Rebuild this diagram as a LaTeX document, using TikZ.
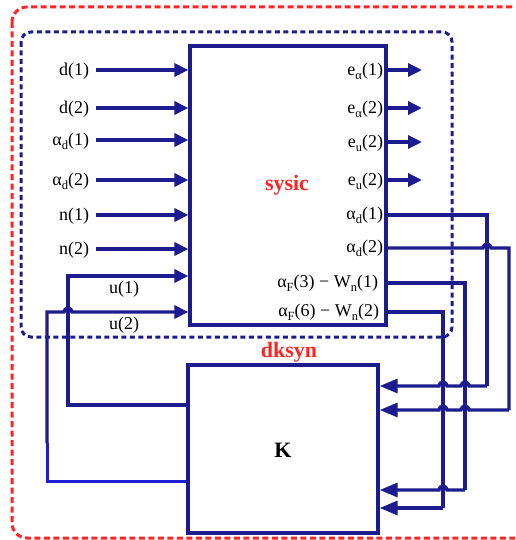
\documentclass[tikz,border=0pt]{standalone}
\usepackage{fontspec}
\setmainfont{Liberation Serif}
\usetikzlibrary{arrows.meta,positioning}
\definecolor{sysnavy}{HTML}{1C1C8E}
\definecolor{sysblue}{HTML}{1E1ED2}
\definecolor{dkred}{HTML}{FF2424}
\newcommand{\fL}{\fontsize{18}{21}\selectfont}
\newcommand{\fT}{\fontsize{22}{25}\selectfont\bfseries}
\newcommand{\lo}[1]{\raisebox{-0.5ex}{\fontsize{12.5}{13}\selectfont #1}}

\begin{document}
\begin{tikzpicture}[x=1pt,y=-1pt,
    txt/.style={inner sep=0pt,outer sep=0pt,font=\fL},
    lbl/.style={txt,anchor=base east},
    ttl/.style={txt,font=\fT},
    blk/.style={draw=sysnavy,fill=white,line width=3.3pt,inner sep=0pt},
    lnk/.style={draw=sysnavy,line width=3.3pt},
    arr/.style={lnk,-{Triangle[length=14pt,width=13pt]}},
    karr/.style={lnk,-{Triangle[length=18pt,width=14pt]}}]
  \path[use as bounding box] (0,0) rectangle (515,540);
  \clip (0,0) rectangle (515,540);

  % Enclosures: dksyn (red) and sysic (blue)
  \draw[dkred,line width=3pt,dash pattern=on 6pt off 3.5pt,rounded corners=15pt]
    (12,7) rectangle (570,538);
  \draw[sysnavy,line width=3pt,dash pattern=on 5pt off 3.5pt,rounded corners=10pt]
    (21,32) rectangle (452,337);

  % Blocks
  \node[blk,minimum width=196pt,minimum height=279pt] (sysic) at (288,185.5) {};
  \node[blk,minimum width=190pt,minimum height=168pt] (K) at (283,449) {};
  \node[ttl,text=dkred] (sysictxt) at (287,185) {sysic};
  \node[ttl,text=dkred] (dksyntxt) at (289,352) {dksyn};
  \node[ttl] (Ktxt) at (283,450) {K};

  % External inputs of sysic
  \foreach \y/\t/\n in {70/d(1)/d1, 108/d(2)/d2, 140/{α\lo{d}(1)}/ad1,
      180/{α\lo{d}(2)}/ad2, 215/n(1)/n1, 249/n(2)/n2} {
    \node[lbl] (lab\n) at (89,\y+5.5) {\t};
    \coordinate (in\n) at (96,\y);
    \draw[arr] (in\n) -- (in\n -| sysic.west);
  }

  % Performance outputs
  \foreach \y/\t/\n in {70/{e\lo{α}(1)}/ea1, 108/{e\lo{α}(2)}/ea2,
      142/{e\lo{u}(2)}/eu1, 180/{e\lo{u}(2)}/eu2} {
    \node[lbl] (lab\n) at (383,\y+5.5) {\t};
    \coordinate (out\n) at (422,\y);
    \draw[arr] (out\n -| sysic.east) -- (out\n);
  }

  % Measured outputs fed to K
  \node[lbl] (labm1) at (383,215+4.5) {α\lo{d}(1)};
  \node[lbl] (labm2) at (383,248+4.5) {α\lo{d}(2)};
  \node[lbl] (labm3) at (378,283+4.5) {α\lo{F}(3) − W\lo{n}(1)};
  \node[lbl] (labm4) at (379,312+4.5) {α\lo{F}(6) − W\lo{n}(2)};
  \coordinate (pm1) at (sysic.east |- 0,215);
  \coordinate (pm2) at (sysic.east |- 0,248);
  \coordinate (pm3) at (sysic.east |- 0,283);
  \coordinate (pm4) at (sysic.east |- 0,312);
  \coordinate (km1) at (K.east |- 0,386);
  \coordinate (km2) at (K.east |- 0,410);
  \coordinate (km3) at (K.east |- 0,490);
  \coordinate (km4) at (K.east |- 0,508);
  \draw[lnk] (pm4) -- (443,312) -- (443,508);
  \draw[karr] (443,508) -- (km4);
  \draw[lnk] (pm3) -- (465,283) -- (465,490);
  \draw[karr] (465,490) -- (447,490) arc[start angle=0,end angle=-180,radius=4] -- (km3);
  \draw[lnk] (pm1) -- (487,215) -- (487,386);
  \draw[karr] (487,386) -- (469,386) arc[start angle=0,end angle=-180,radius=4]
    -- (447,386) arc[start angle=0,end angle=-180,radius=4] -- (km1);
  \draw[lnk] (pm2) -- (483,248) arc[start angle=180,end angle=360,radius=4]
    -- (509,248) -- (509,410);
  \draw[karr] (509,410) -- (469,410) arc[start angle=0,end angle=-180,radius=4]
    -- (447,410) arc[start angle=0,end angle=-180,radius=4] -- (km2);

  % Controls from K back to sysic
  \coordinate (ku1) at (K.west |- 0,405);
  \coordinate (ku2) at (K.west |- 0,481);
  \coordinate (su1) at (sysic.west |- 0,276);
  \coordinate (su2) at (sysic.west |- 0,312);
  \draw[arr] (ku1) -- (68,405) -- (68,276) -- (su1);
  \draw[draw=sysblue,line width=3pt] (ku2) -- (47,481) -- (47,443);
  \draw[arr] (47,443) -- (47,312) -- (64,312) arc[start angle=180,end angle=360,radius=4]
    -- (su2);
  \node[txt] (labu1) at (124,289) {u(1)};
  \node[txt] (labu2) at (124,325) {u(2)};
\end{tikzpicture}
\end{document}
